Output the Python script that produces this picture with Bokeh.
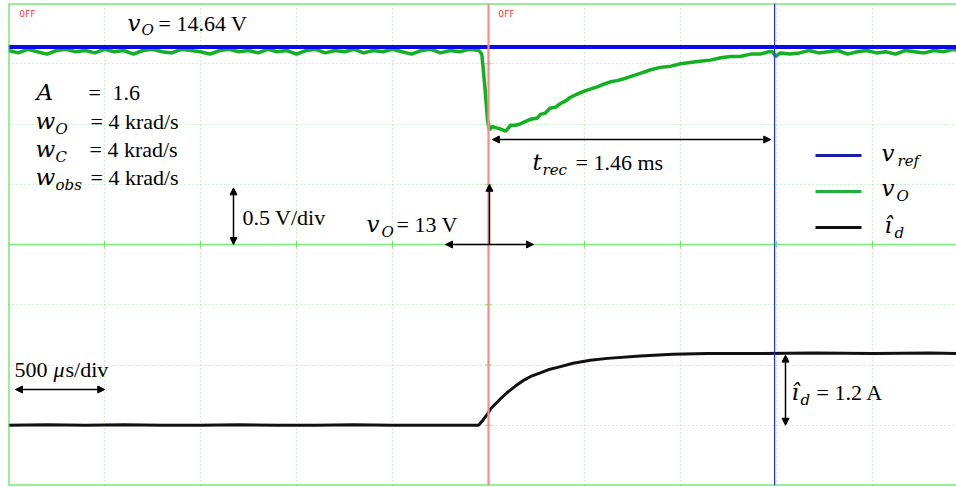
from bokeh.plotting import figure
from bokeh.models import (Range1d, Span, Arrow, NormalHead, Grid, FixedTicker)
from bokeh.core.properties import value
from bokeh.embed import file_html
from bokeh.resources import INLINE

# ---------------- data (time in ms, voltage in V, current in A) ----------------
t_vo = [-2.50, -2.45, -2.40, -2.35, -2.30, -2.25, -2.20, -2.15, -2.10, -2.05,
        -2.00, -1.95, -1.90, -1.85, -1.80, -1.75, -1.70, -1.65, -1.60, -1.55,
        -1.50, -1.45, -1.40, -1.35, -1.30, -1.25, -1.20, -1.15, -1.10, -1.05,
        -1.00, -0.95, -0.90, -0.85, -0.80, -0.75, -0.70, -0.65, -0.60, -0.55,
        -0.50, -0.45, -0.40, -0.35, -0.30, -0.25, -0.20, -0.15, -0.10, -0.05,
        -0.035, -0.02, -0.005, 0.005, 0.02, 0.035, 0.06, 0.09, 0.115, 0.14,
        0.165, 0.19, 0.22, 0.255, 0.27, 0.295, 0.32, 0.35, 0.375, 0.40,
        0.425, 0.465, 0.495, 0.53, 0.57, 0.60, 0.635, 0.67, 0.715, 0.75,
        0.79, 0.845, 0.895, 0.95, 1.00, 1.05, 1.10, 1.155, 1.21, 1.26,
        1.31, 1.365, 1.415, 1.46, 1.48, 1.495, 1.52, 1.57,
        1.62, 1.67, 1.72, 1.77, 1.82, 1.87, 1.92, 1.97, 2.02, 2.07,
        2.12, 2.17, 2.22, 2.27, 2.32, 2.37, 2.42, 2.44]
v_o = [14.61, 14.59, 14.62, 14.60, 14.58, 14.61, 14.62, 14.60, 14.61, 14.59,
       14.62, 14.60, 14.61, 14.58, 14.61, 14.62, 14.60, 14.59, 14.62, 14.61,
       14.60, 14.58, 14.61, 14.62, 14.60, 14.61, 14.59, 14.62, 14.60, 14.61,
       14.58, 14.61, 14.62, 14.59, 14.61, 14.60, 14.62, 14.59, 14.61, 14.60,
       14.62, 14.60, 14.58, 14.61, 14.62, 14.59, 14.61, 14.60, 14.62, 14.61,
       14.58, 14.33, 14.03, 13.95, 13.98, 13.97, 13.96, 13.94, 13.99, 13.99,
       14.00, 14.02, 14.04, 14.05, 14.08, 14.09, 14.13, 14.14, 14.17, 14.19,
       14.22, 14.25, 14.27, 14.29, 14.31, 14.33, 14.35, 14.36, 14.38, 14.40,
       14.42, 14.45, 14.47, 14.48, 14.50, 14.51, 14.52, 14.53, 14.55, 14.56,
       14.56, 14.58, 14.58, 14.60, 14.60, 14.56, 14.59, 14.58,
       14.59, 14.61, 14.59, 14.60, 14.61, 14.58, 14.60, 14.61, 14.59, 14.60,
       14.58, 14.61, 14.60, 14.59, 14.61, 14.60, 14.62, 14.61]

t_ref = [-2.50, 2.44]
v_ref = [14.64, 14.64]

t_id = [-2.50, -2.30, -2.10, -1.90, -1.70, -1.50, -1.30, -1.10, -0.90, -0.70,
        -0.50, -0.30, -0.10, -0.052, -0.03, 0.0, 0.01, 0.0625, 0.10, 0.14,
        0.18, 0.22, 0.27, 0.31, 0.36, 0.44, 0.53, 0.62, 0.79, 0.96,
        1.14, 1.40, 1.70, 2.00, 2.30, 2.44]
i_d = [0.0, 0.01, 0.0, 0.01, 0.0, 0.0, 0.01, 0.0, 0.0, 0.01,
       0.0, 0.0, 0.0, 0.0, 0.08, 0.21, 0.27, 0.44, 0.55, 0.65,
       0.74, 0.81, 0.87, 0.92, 0.96, 1.03, 1.08, 1.11, 1.15, 1.18,
       1.19, 1.19, 1.20, 1.19, 1.20, 1.19]

cursor_red_t = 0.0
cursor_blue_t = 1.49
t_rec = 1.46
i_step = 1.2
v_center = 13.0
volt_per_div = 0.5
ms_per_div = 0.5

x_div = [-2.0, -1.5, -1.0, -0.5, 0.5, 1.0, 1.5, 2.0]
y_div = [11.5, 12.0, 12.5, 13.5, 14.0, 14.5]

# ---------------- layout ----------------
W, H = 956, 487
L, T, B = 8, 3, 2
PXMS = 192.0
PXV = (H - T - B) / 4.0
X0 = -2.5
X1 = X0 + (W - L) / PXMS
V_BOT, V_TOP = 11.0, 15.0

def DX(px):
    return X0 + (px - L) / PXMS

def DY(py):
    return V_TOP - (py - T) / PXV

p = figure(width=W, height=H, output_backend="svg", toolbar_location=None,
           x_range=Range1d(X0, X1), y_range=Range1d(V_BOT, V_TOP),
           x_axis_location=None, y_axis_location=None,
           min_border_left=L, min_border_right=0, min_border_top=T, min_border_bottom=B)
p.extra_y_ranges = {"cur": Range1d(-1.0, 7.0)}
p.outline_line_color = None
p.background_fill_color = "white"
p.border_fill_color = "white"
for g in p.grid:
    g.visible = False

GRID = "#8cef8c"
p.add_layout(Grid(dimension=0, ticker=FixedTicker(ticks=x_div), grid_line_color=GRID,
                  grid_line_dash="1 3", grid_line_width=1.2))
p.add_layout(Grid(dimension=1, ticker=FixedTicker(ticks=y_div), grid_line_color=GRID,
                  grid_line_dash="1 3", grid_line_width=1.2))

p.add_layout(Span(location=v_center, dimension="width", line_color="#7aee7a", line_width=1.5))
p.add_layout(Span(location=0.0, dimension="height", line_color="#7aee7a", line_width=1.5))
p.scatter(x=x_div, y=[v_center] * len(x_div), marker="dash", angle=1.5708, size=6,
          line_color="#5ee05e", line_width=1.2)
p.scatter(x=[0.0] * len(y_div), y=y_div, marker="dash", size=6,
          line_color="#5ee05e", line_width=1.2)

BORDER = "#33e033"
p.add_layout(Span(location=X0, dimension="height", line_color=BORDER, line_width=2))
p.add_layout(Span(location=V_TOP, dimension="width", line_color=BORDER, line_width=2))
p.add_layout(Span(location=V_BOT, dimension="width", line_color=BORDER, line_width=2))

p.add_layout(Span(location=cursor_red_t, dimension="height", line_color="#ff8a8a", line_width=2))
p.add_layout(Span(location=cursor_blue_t, dimension="height", line_color="#2a2aff", line_width=1.2))

p.line(t_id, i_d, y_range_name="cur", line_color="#111111", line_width=3)
p.line(t_vo, v_o, line_color="#12b022", line_width=3.5)
p.line(t_ref, v_ref, line_color="#0a0af0", line_width=4)

p.segment(x0=[DX(815)] * 3, x1=[DX(861)] * 3, y0=[DY(155), DY(191), DY(227)],
          y1=[DY(155), DY(191), DY(227)],
          line_color=["#1c1ca8", "#1fb040", "#111111"], line_width=3)

def head():
    return NormalHead(size=7, fill_color="black", line_color="black", line_width=1)

p.add_layout(Arrow(start=head(), end=head(), x_start=cursor_red_t + 0.02, x_end=t_rec + 0.01,
                   y_start=DY(139), y_end=DY(139), line_width=1.5))
p.add_layout(Arrow(start=head(), end=head(), x_start=DX(233), x_end=DX(233),
                   y_start=v_center, y_end=v_center + volt_per_div * 0.94, line_width=1.5))
p.add_layout(Arrow(end=head(), x_start=0.005, x_end=0.005,
                   y_start=v_center, y_end=v_center + volt_per_div, line_width=1.5))
p.add_layout(Arrow(start=head(), end=head(), x_start=DX(445), x_end=DX(533),
                   y_start=v_center, y_end=v_center, line_width=1.5))
p.add_layout(Arrow(start=head(), end=head(), x_start=DX(15), x_end=DX(15) + ms_per_div * 0.93,
                   y_start=DY(389), y_end=DY(389), line_width=1.5))
p.add_layout(Arrow(start=head(), end=head(), x_start=DX(785), x_end=DX(785),
                   y_start=0.0, y_end=i_step * 0.97, y_range_name="cur", line_width=1.5))

SERIF = "Liberation Serif"
MATH = "DejaVu Serif"

def lab(px, py, text, size, italic=False, font=SERIF, color="black"):
    # empirical correction: the rendered baseline sits ~0.36 em below the anchor
    yy = py - 0.36 * size
    p.text(x=[DX(px)], y=[DY(yy)], text=[text], text_font=value(font),
           text_font_size=value(f"{size}px"), text_color=color,
           text_font_style=value("italic" if italic else "normal"),
           text_baseline="alphabetic", text_align="left")

def var(px, py, text):
    lab(px, py, text, 23, True, font=MATH)

def sub(px, py, text):
    lab(px, py, text, 15, True, font=MATH)

lab(19, 17, "OFF", 9, font="DejaVu Sans Mono", color="#ff3b3b")
lab(498, 17, "OFF", 9, font="DejaVu Sans Mono", color="#ff3b3b")

var(127, 31, "v"); sub(141, 35, "O"); lab(158, 31, "= 14.64 V", 22)

var(36, 100, "A"); lab(88, 100, "=", 22); lab(112, 100, "1.6", 22)
var(35, 129, "w"); sub(55, 134, "O"); lab(90, 129, "= 4 krad/s", 22)
var(35, 157, "w"); sub(55, 162, "C"); lab(89, 157, "= 4 krad/s", 22)
var(35, 185, "w"); sub(55, 190, "obs"); lab(90, 185, "= 4 krad/s", 22)

var(532, 170, "t"); sub(542, 175, "rec"); lab(575, 170, "= 1.46 ms", 22)

var(881, 161, "v"); sub(897, 166, "ref")
var(881, 196, "v"); sub(896, 201, "O")
var(884, 233, "\u00ee"); sub(894, 238, "d")

lab(242, 225, "0.5 V/div", 22)
var(366, 232, "v"); sub(381, 237, "O"); lab(396, 232, "= 13 V", 22)

lab(14, 377, "500", 22); lab(53, 377, "\u03bc", 22, True); lab(65, 377, "s/div", 22)

var(791, 400, "\u00ee"); sub(800, 405, "d"); lab(816, 400, "= 1.2 A", 22)

open("out.html", "w").write(file_html(p, INLINE))
